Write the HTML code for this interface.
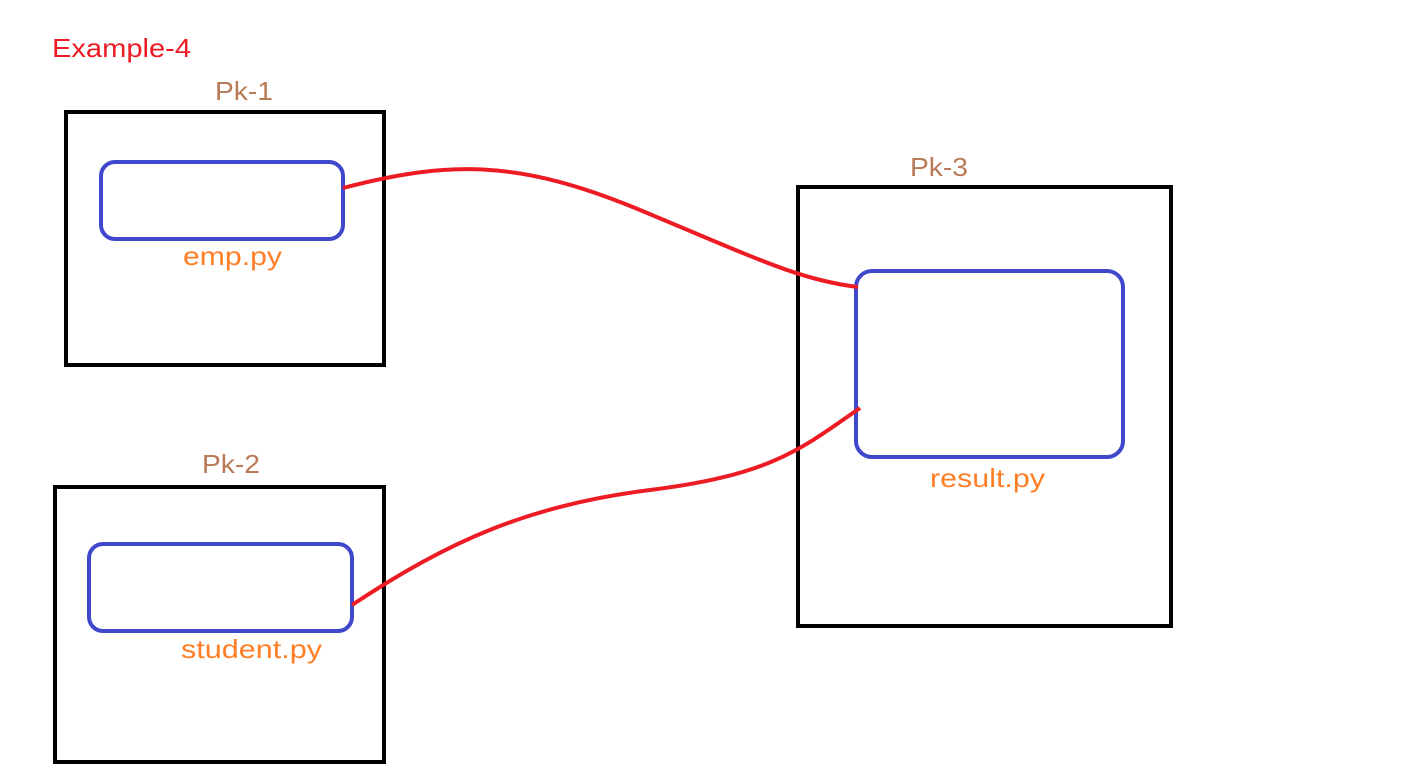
<!DOCTYPE html>
<html><head><style>body{margin:0;background:#fff}</style></head><body>
<svg width="1405" height="777" xmlns="http://www.w3.org/2000/svg" font-family="Liberation Sans, sans-serif" font-size="26">
<rect width="1405" height="777" fill="#fff"/>
<text x="52" y="57" fill="#ed1c24" textLength="139" lengthAdjust="spacingAndGlyphs">Example-4</text>
<text x="215" y="100" fill="#b97a57" textLength="58" lengthAdjust="spacingAndGlyphs">Pk-1</text>
<text x="202" y="473" fill="#b97a57" textLength="58" lengthAdjust="spacingAndGlyphs">Pk-2</text>
<text x="910" y="176" fill="#b97a57" textLength="58" lengthAdjust="spacingAndGlyphs">Pk-3</text>
<rect x="66" y="112" width="318" height="253" fill="none" stroke="#000" stroke-width="4"/>
<rect x="55" y="487" width="329" height="275" fill="none" stroke="#000" stroke-width="4"/>
<rect x="798" y="187" width="373" height="439" fill="none" stroke="#000" stroke-width="4"/>
<rect x="101" y="162" width="242" height="77" rx="14" fill="none" stroke="#3f48cc" stroke-width="4"/>
<rect x="89" y="544" width="263" height="87" rx="14" fill="none" stroke="#3f48cc" stroke-width="4"/>
<rect x="856" y="271" width="267" height="186" rx="16" fill="none" stroke="#3f48cc" stroke-width="4"/>
<text x="183" y="265" fill="#ff7f27" textLength="99" lengthAdjust="spacingAndGlyphs">emp.py</text>
<text x="181" y="658" fill="#ff7f27" textLength="141" lengthAdjust="spacingAndGlyphs">student.py</text>
<text x="930" y="487" fill="#ff7f27" textLength="115" lengthAdjust="spacingAndGlyphs">result.py</text>
<path d="M343 188 C 450 160, 520 160, 640 210 S 800 280, 858 287" fill="none" stroke="#ed1c24" stroke-width="4"/>
<path d="M352 605 C 450 540, 530 505, 650 490 S 800 450, 860 408" fill="none" stroke="#ed1c24" stroke-width="4"/>
</svg>
</body></html>
